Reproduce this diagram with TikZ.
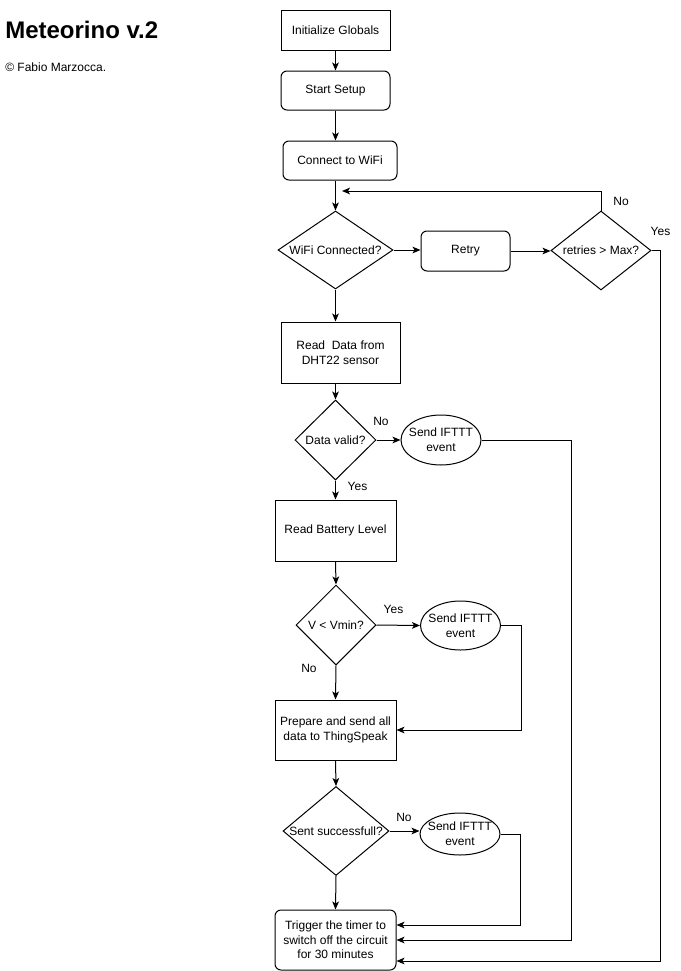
\documentclass[tikz,border=0pt]{standalone}
\usepackage{fontspec}
\setmainfont{Liberation Sans}
\usepackage{tikz}
\usetikzlibrary{positioning}
\usetikzlibrary{shapes.geometric}
\usetikzlibrary{arrows.meta}

\tikzset{
  box/.style={draw, line width=0.75pt, align=center, inner sep=1pt},
  rbox/.style={box, rounded corners=4.5pt},
  decision/.style={draw, diamond, line width=0.75pt, align=center, inner sep=0pt},
  event/.style={draw, ellipse, line width=0.75pt, align=center, inner xsep=-3pt, inner ysep=0pt, minimum width=60pt},
  flow/.style={line width=0.75pt, -{Stealth[length=6pt,width=5pt,inset=1.5pt]}},
}

\begin{document}
\begin{tikzpicture}[x=0.75pt, y=-0.75pt, font=\fontsize{9}{11}\selectfont]
\useasboundingbox (0,0) rectangle (681,971);

\node (title) at (5,30) [anchor=west, inner sep=0pt, font=\fontsize{18}{20}\selectfont\bfseries] {Meteorino v.2};
\node (copy) at (5,67.5) [anchor=west, inner sep=0pt] {© Fabio Marzocca.};

\node (init) at (335.5,30) [box, minimum width=81.75pt, minimum height=30pt] {Initialize Globals};
\node (setup) at (335.5,90.5) [rbox, minimum width=81.75pt, minimum height=29.25pt] {Start Setup};
\node (connect) at (340,160.5) [rbox, minimum width=85.5pt, minimum height=29.25pt] {Connect to WiFi};
\node (wifi) at (335.5,250) [decision, aspect=1.47, minimum width=86.25pt, minimum height=58.5pt] {WiFi Connected?};
\node (retry) at (465.5,251) [rbox, minimum width=66.75pt, minimum height=30pt] {Retry};
\node (retries) at (601,250.5) [decision, aspect=1.27, minimum width=75pt, minimum height=59.25pt] {retries > Max?};
\node (dht) at (340.5,352.5) [box, minimum width=89.25pt, minimum height=45.75pt] {Read~~Data from\\DHT22 sensor};
\node (valid) at (335.5,440) [decision, minimum width=60.75pt, minimum height=60pt] {Data valid?};
\node (ifttta) at (441,440) [event, minimum height=37.5pt] {Send IFTTT\\event};
\node (battery) at (335.5,530.5) [box, minimum width=90.75pt, minimum height=45.75pt] {Read Battery Level};
\node (vmin) at (336,625) [decision, minimum width=60pt, minimum height=60pt] {V < Vmin?};
\node (iftttb) at (460.5,625.5) [event, minimum height=36.75pt] {Send IFTTT\\event};
\node (prepare) at (335.5,730) [box, minimum width=90.75pt, minimum height=45pt] {Prepare and send all\\data to ThingSpeak};
\node (sent) at (336,831) [decision, aspect=1.19, minimum width=79.5pt, minimum height=66.75pt] {Sent successfull?};
\node (iftttc) at (460,834) [event, minimum height=31.5pt] {Send IFTTT\\event};
\node (timer) at (335.5,940) [rbox, minimum width=90.75pt, minimum height=45pt] {Trigger the timer to\\switch off the circuit\\for 30 minutes};

\coordinate (loopend) at (342,191);

\draw[flow] (init) -- (setup);
\draw[flow] (setup.south) -- (setup.south |- connect.north);
\draw[flow] (wifi.north |- connect.south) -- (wifi.north);
\draw[flow] (wifi.east) -- (wifi.east -| retry.west);
\draw[flow] (retry.east) -- (retry.east -| retries.west);
\draw[flow] (retries.north) |- (loopend);
\draw[flow] (retries.east) -- ++(9,0) |- ([yshift=-15.75pt]timer.east);
\draw[flow] (wifi.south) -- (wifi.south |- dht.north);
\draw[flow] (valid.north |- dht.south) -- (valid.north);
\draw[flow] (valid.east) -- (ifttta.west);
\draw[flow] (ifttta.east) -- ++(90,0) |- (timer.east);
\draw[flow] (valid.south) -- (battery.north);
\draw[flow] (battery.south) -- (vmin.north);
\draw[flow] (vmin.east) -- (iftttb.west);
\draw[flow] (iftttb.east) -- ++(20,0) |- (prepare.east);
\draw[flow] (vmin.south) -- (prepare.north);
\draw[flow] (prepare.south) -- (sent.north);
\draw[flow] (sent.east) -- (sent.east -| iftttc.west);
\draw[flow] (iftttc.east) -- ++(20,0) |- ([yshift=11.25pt]timer.east);
\draw[flow] (sent.south) -- (timer.north);

\node (noretry) at (621,201) {No};
\node (yesretry) at (660.5,231) {Yes};
\node (novalid) at (381,421) {No};
\node (yesvalid) at (357.5,486) {Yes};
\node (yesvmin) at (393.5,609) {Yes};
\node (novmin) at (309,668) {No};
\node (nosent) at (404,817) {No};
\end{tikzpicture}
\end{document}
